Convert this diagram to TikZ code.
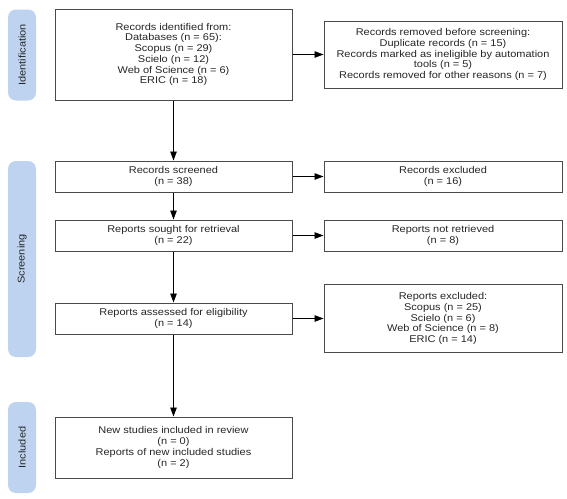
\documentclass[tikz,border=0pt]{standalone}
\usepackage{fontspec}
\setmainfont[FakeStretch=1.12]{Liberation Sans}
\usetikzlibrary{arrows.meta}
\definecolor{barblue}{HTML}{BDD3EF}
\definecolor{boxline}{HTML}{4A4A4A}
\definecolor{bartext}{HTML}{262626}
\begin{document}
\begin{tikzpicture}[x=1pt,y=-1pt,
  box/.style={draw=boxline, line width=1pt, fill=white, inner sep=0pt, align=center,
    text=black!85, font=\fontsize{9.8pt}{10.7pt}\selectfont},
  lbox/.style={box, minimum width=237pt},
  rbox/.style={box, minimum width=238pt},
  bar/.style={fill=barblue, rounded corners=8pt, inner sep=0pt, minimum width=28pt,
    text=bartext, font=\fontsize{9.8pt}{10pt}\selectfont},
  arr/.style={line width=0.9pt, -{Triangle[length=9pt,width=6.5pt]}}]
\useasboundingbox (0,0) rectangle (567,498);
% phase bars
\node[bar, minimum height=91pt] (bid) at (22,55) {\rotatebox{90}{Identification}};
\node[bar, minimum height=196pt] (bsc) at (22,259) {\rotatebox{90}{Screening}};
\node[bar, minimum height=91pt] (bin) at (22,447.5) {\rotatebox{90}{Included}};
% left column
\node[lbox, minimum height=91pt] (b1) at (173.5,54.5) {Records identified from:\\Databases (n = 65):\\Scopus (n = 29)\\Scielo (n = 12)\\Web of Science (n = 6)\\ERIC (n = 18)};
\node[lbox, minimum height=31pt] (b3) at (173.5,176.5) {Records screened\\(n = 38)};
\node[lbox, minimum height=31pt] (b4) at (173.5,235.5) {Reports sought for retrieval\\(n = 22)};
\node[lbox, minimum height=31pt] (b5) at (173.5,318.5) {Reports assessed for eligibility\\(n = 14)};
\node[lbox, minimum height=61pt] (b6) at (173.5,447.5) {New studies included in review\\(n = 0)\\Reports of new included studies\\(n = 2)};
% right column
\node[rbox, minimum height=67pt] (r1) at (443,54.5) {Records removed before screening:\\Duplicate records (n = 15)\\Records marked as ineligible by automation\\tools (n = 5)\\Records removed for other reasons (n = 7)};
\node[rbox, minimum height=31pt] (r3) at (443,176.5) {Records excluded\\(n = 16)};
\node[rbox, minimum height=31pt] (r4) at (443,235.5) {Reports not retrieved\\(n = 8)};
\node[rbox, minimum height=68pt] (r5) at (443,318.5) {Reports excluded:\\Scopus (n = 25)\\Scielo (n = 6)\\Web of Science (n = 8)\\ERIC (n = 14)};
% connectors
\draw[arr] (b1) -- (b3);
\draw[arr] (b3) -- (b4);
\draw[arr] (b4) -- (b5);
\draw[arr] (b5) -- (b6);
\draw[arr] (b1) -- (r1);
\draw[arr] (b3) -- (r3);
\draw[arr] (b4) -- (r4);
\draw[arr] (b5) -- (r5);
\end{tikzpicture}
\end{document}
